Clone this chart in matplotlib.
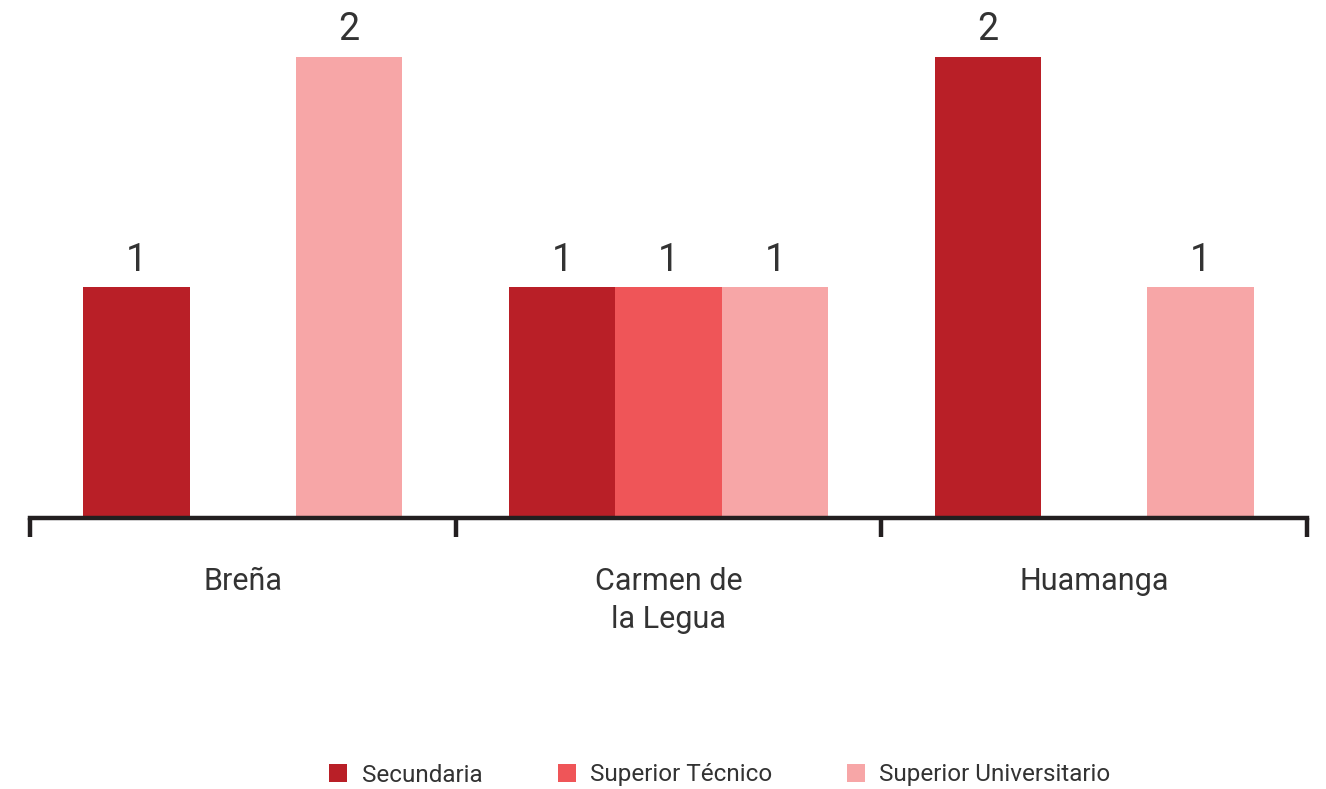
import matplotlib
matplotlib.use("Agg")
import matplotlib.pyplot as plt
import numpy as np
from matplotlib.patches import Patch

categories = ["Breña", "Carmen de\nla Legua", "Huamanga"]
series_names = ["Secundaria", "Superior Técnico", "Superior Universitario"]
secundaria = [1, 1, 2]
tecnico = [0, 1, 0]
universitario = [2, 1, 1]
colors = ["#B91F27", "#EF5558", "#F7A6A7"]
text_color = "#333333"

plt.rcParams['font.family'] = ['Roboto', 'DejaVu Sans']

fig = plt.figure(figsize=(13.26, 7.89), dpi=100)
W, H = 1326, 789
ax = fig.add_axes([30 / W, (H - 518) / H, (1307 - 30) / W, 518 / H])

x = np.arange(len(categories))
bw = 0.25
series = [secundaria, tecnico, universitario]
for i, (vals, col) in enumerate(zip(series, colors)):
    pos = x + (i - 1) * bw
    for p, v in zip(pos, vals):
        if v > 0:
            ax.bar(p, v, width=bw, color=col, zorder=2)
            ax.annotate(str(v), (p, v), xytext=(0, 12), textcoords="offset points",
                        ha="center", va="baseline", fontsize=27, color=text_color)

ax.set_xlim(-0.5, len(categories) - 0.5)
ax.set_ylim(0, 2.247)
for s in ["left", "right", "top"]:
    ax.spines[s].set_visible(False)
ax.spines["bottom"].set_linewidth(3.2)
ax.spines["bottom"].set_color("#231F20")
ax.spines["bottom"].set_capstyle("projecting")
ax.set_yticks([])
ax.set_xticks(x)
ax.set_xticklabels(categories, fontsize=22, color=text_color, linespacing=1.42, va="top")
ax.tick_params(axis="x", which="major", length=0, pad=35)
ax.set_xticks(np.arange(-0.5, len(categories), 1.0), minor=True)
ax.tick_params(axis="x", which="minor", length=14, width=3.2, color="#231F20", direction="out")

handles = [Patch(facecolor=c, edgecolor="none") for c in colors]
fig.legend(handles, series_names, loc="center", bbox_to_anchor=(0.543, (H - 775) / H),
           ncol=3, frameon=False, fontsize=17.5, handlelength=0.74, handleheight=0.74,
           columnspacing=3.1, handletextpad=0.58, labelcolor=text_color)

fig.savefig("out.png", dpi=100)
